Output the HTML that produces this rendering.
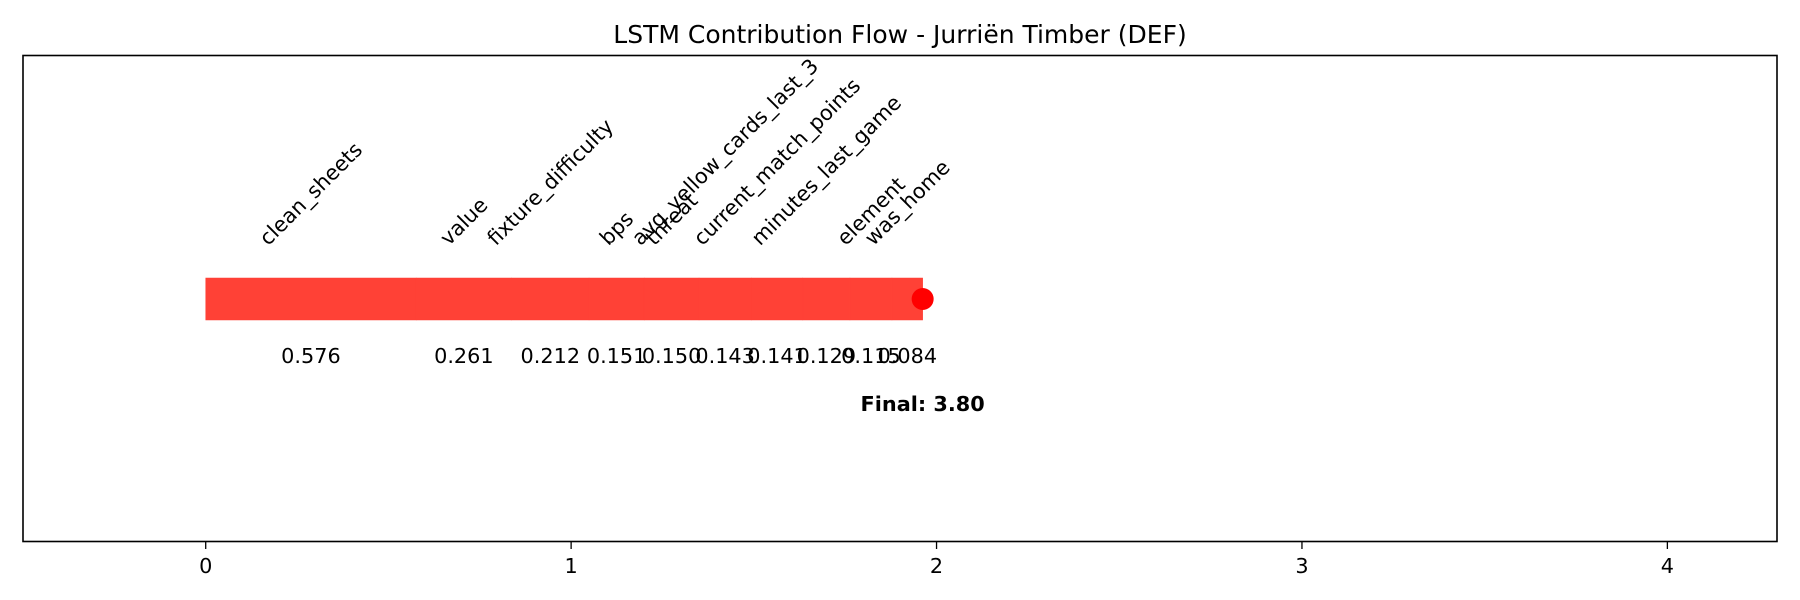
<!DOCTYPE html>
<html><head><meta charset="utf-8">
<style>
html,body{margin:0;padding:0;background:#fff;}
svg{display:block;font-family:"DejaVu Sans","Liberation Sans",sans-serif;}
</style></head>
<body>
<svg id="chart" width="1800" height="600" viewBox="0 0 1800 600" xmlns="http://www.w3.org/2000/svg">
  <rect width="1800" height="600" fill="#fff"/>
  <text x="900" y="43" text-anchor="middle" font-size="25" fill="#000">LSTM Contribution Flow - Jurriën Timber (DEF)</text>
  <g id="marks"></g>
  <g id="axis"></g>
  <rect x="23" y="55.5" width="1754" height="486" fill="none" stroke="#000" stroke-width="1.6"/>
</svg>
<script>
const features = ["clean_sheets","value","fixture_difficulty","bps","threat","avg_yellow_cards_last_3","current_match_points","minutes_last_game","element","was_home"];
const contributions = [0.576,0.261,0.212,0.151,0.150,0.143,0.141,0.129,0.115,0.084];
const xTicks = [0,1,2,3,4];
const finalLabel = "Final: 3.80";

const X0 = 23, X1 = 1777, XMIN = -0.5, XMAX = 4.3;
function x(v){ return X0 + (v - XMIN) / (XMAX - XMIN) * (X1 - X0); }
const barTop = 278, barH = 42, nameBottom = 250, valueY = 363, finalY = 411;
const FS = 20.8;
const NS = "http://www.w3.org/2000/svg";
const marks = document.getElementById('marks');
const axis = document.getElementById('axis');

let cum = 0;
contributions.forEach((c, i) => {
  const r = document.createElementNS(NS, 'rect');
  r.setAttribute('x', x(cum)); r.setAttribute('y', barTop);
  r.setAttribute('width', x(cum + c) - x(cum)); r.setAttribute('height', barH);
  r.setAttribute('fill', '#ff4136'); r.setAttribute('stroke', '#ff4136'); r.setAttribute('stroke-width', '0.5');
  
  
  marks.appendChild(r);

  const cx = x(cum + c / 2);
  const v = document.createElementNS(NS, 'text');
  v.setAttribute('x', cx); v.setAttribute('y', valueY);
  v.setAttribute('text-anchor', 'middle'); v.setAttribute('font-size', FS);
  v.textContent = c.toFixed(3);
  
  
  marks.appendChild(v);

  const t = document.createElementNS(NS, 'text');
  t.setAttribute('text-anchor', 'middle'); t.setAttribute('font-size', FS);
  t.setAttribute('dominant-baseline', 'central');
  t.textContent = features[i];
  
  
  marks.appendChild(t);
  const L = t.getComputedTextLength();
  const h = FS * 1.15;
  const bh = (L + h) * Math.SQRT1_2;
  const cy = nameBottom - bh / 2;
  t.setAttribute('x', cx); t.setAttribute('y', cy);
  t.setAttribute('transform', 'rotate(-45 ' + cx + ' ' + cy + ')');
  cum += c;
});

const dot = document.createElementNS(NS, 'circle');
dot.setAttribute('cx', x(cum)); dot.setAttribute('cy', barTop + barH / 2); dot.setAttribute('r', 11);
dot.setAttribute('fill', '#ff0000');


marks.appendChild(dot);

const fin = document.createElementNS(NS, 'text');
fin.setAttribute('x', x(cum)); fin.setAttribute('y', finalY);
fin.setAttribute('text-anchor', 'middle'); fin.setAttribute('font-size', FS); fin.setAttribute('font-weight', 'bold');
fin.textContent = finalLabel;


marks.appendChild(fin);

xTicks.forEach(tv => {
  const l = document.createElementNS(NS, 'line');
  l.setAttribute('x1', x(tv)); l.setAttribute('x2', x(tv));
  l.setAttribute('y1', 541.5); l.setAttribute('y2', 549);
  l.setAttribute('stroke', '#000'); l.setAttribute('stroke-width', '1.3');
  
  
  axis.appendChild(l);
  const tl = document.createElementNS(NS, 'text');
  tl.setAttribute('x', x(tv)); tl.setAttribute('y', 573);
  tl.setAttribute('text-anchor', 'middle'); tl.setAttribute('font-size', FS);
  tl.textContent = tv;
  
  
  axis.appendChild(tl);
});
</script>
</body></html>
